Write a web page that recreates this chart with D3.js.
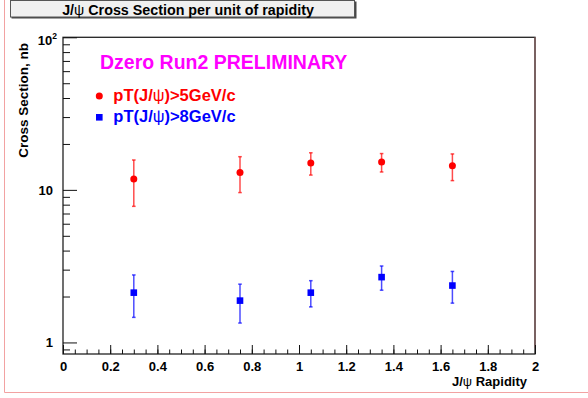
<!DOCTYPE html>
<html>
<head>
<meta charset="utf-8">
<script src="https://d3js.org/d3.v7.min.js"></script>
<style>
body{margin:0;background:#fff}
svg{display:block;font-family:"Liberation Sans",Arial,sans-serif}
</style>
</head>
<body>
<div id="char1"></div>
<script>
// J/psi rapidity points
var rapidity=[0.3,0.75,1.05,1.35,1.65];
// pT>5 GeV/c
var pt5=[11.8,13.0,15.0,15.25,14.4];
var pt5Lo=[7.8,9.6,12.5,13.1,11.5];
var pt5Hi=[15.7,16.5,17.5,17.3,17.2];
// pT>8 GeV/c
var pt8=[2.12,1.88,2.12,2.68,2.36];
var pt8Lo=[1.46,1.34,1.71,2.20,1.81];
var pt8Hi=[2.77,2.41,2.54,3.17,2.92];
var xTicks=[0,0.2,0.4,0.6,0.8,1,1.2,1.4,1.6,1.8,2];
var yTicks=[1,10,100];

var svgwidth=588,svgheight=398;
var frame={"left":63,"right":535,"top":37.3,"bottom":354};

var svf=d3.select("#char1")
          .append("svg")
          .attr("width",svgwidth)
          .attr("height",svgheight)

// pink canvas edge
svf.append("path")
   .attr("d","M4.5,0V392.5H588")
   .attr("fill","none")
   .attr("stroke","#f2a2a2")
   .attr("stroke-width",1)

var xscale=d3.scaleLinear()
             .domain([0,2])
             .range([frame.left,frame.right])
var yscale=d3.scaleLog()
             .domain([0.84,100])
             .range([frame.bottom,frame.top])

// frame
svf.append("rect")
   .attr("x",frame.left)
   .attr("y",frame.top)
   .attr("width",frame.right-frame.left)
   .attr("height",frame.bottom-frame.top)
   .attr("fill","none")
   .attr("stroke","#222")
   .attr("stroke-width",1.3)
svf.append("line")
   .attr("x1",frame.right).attr("x2",frame.right)
   .attr("y1",frame.top).attr("y2",frame.bottom-6)
   .attr("stroke","#7d5c5c")
   .attr("stroke-width",1.5)

// x axis, ticks point inward
var xAxis=d3.axisBottom()
            .scale(xscale)
            .tickValues(xTicks)
            .tickSizeInner(-9)
            .tickSizeOuter(0)
            .tickPadding(8)
            .tickFormat(function (d) {return d3.format("")(+d.toFixed(1))})
var xMinor=d3.axisBottom()
             .scale(xscale)
             .tickValues(d3.range(0,41).map(function (i) {return i*0.05}))
             .tickSize(-4.5)
             .tickFormat("")
svf.append("g")
   .attr("transform","translate(0,"+frame.bottom+")")
   .call(xMinor)
   .call(function (g) {g.select(".domain").remove()})
svf.append("g")
   .classed("xaxis",true)
   .attr("transform","translate(0,"+frame.bottom+")")
   .style("font","bold 13px 'Liberation Sans', Arial, sans-serif")
   .call(xAxis)
   .call(function (g) {g.select(".domain").remove()})

// y axis, log
var yMinorVals=[0.9,2,3,4,5,6,7,8,9,20,30,40,50,60,70,80,90];
var yMinor=d3.axisLeft()
             .scale(yscale)
             .tickValues(yMinorVals)
             .tickSize(-7)
             .tickFormat("")
var yAxis=d3.axisLeft()
            .scale(yscale)
            .tickValues(yTicks)
            .tickSizeInner(-14)
            .tickSizeOuter(0)
            .tickPadding(10)
            .tickFormat(function (d) {return d===100?"10":String(d)})
svf.append("g")
   .attr("transform","translate("+frame.left+",0)")
   .call(yMinor)
   .call(function (g) {g.select(".domain").remove()})
var yg=svf.append("g")
          .classed("yaxis",true)
          .attr("transform","translate("+frame.left+",0)")
          .style("font","bold 13px 'Liberation Sans', Arial, sans-serif")
          .call(yAxis)
          .call(function (g) {g.select(".domain").remove()})
yg.selectAll(".tick")
  .filter(function (d) {return d===100})
  .select("text")
  .attr("x",-6)
  .attr("dy","0.55em")
  .append("tspan")
  .attr("dy","-0.75em")
  .style("font-size","8.5px")
  .text("2")

svf.selectAll(".tick line").attr("stroke","#111")
svf.selectAll(".tick text").attr("fill","#000")

// axis titles
svf.append("text")
   .attr("transform","translate(28,43) rotate(-90)")
   .attr("text-anchor","end")
   .style("font","bold 13.5px 'Liberation Sans', Arial, sans-serif")
   .text("Cross Section, nb")
var xt=svf.append("text")
          .attr("x",527)
          .attr("y",385.5)
          .attr("text-anchor","end")
          .style("font","bold 13px 'Liberation Sans', Arial, sans-serif")
xt.append("tspan").text("J/")
xt.append("tspan").style("font-weight","normal").text("ψ")
xt.append("tspan").text(" Rapidity")

// title box
svf.append("rect")
   .attr("x",11.5).attr("y",1.5)
   .attr("width",345).attr("height",17)
   .attr("fill","#474747")
svf.append("rect")
   .attr("x",10.5).attr("y",0.5)
   .attr("width",344).attr("height",16.5)
   .attr("fill","#f0f0f0")
   .attr("stroke","#555")
   .attr("stroke-width",1)
var tt=svf.append("text")
          .attr("x",188)
          .attr("y",14.5)
          .attr("text-anchor","middle")
          .style("font","bold 14.3px 'Liberation Sans', Arial, sans-serif")
tt.append("tspan").text("J/")
tt.append("tspan").style("font-weight","normal").text("ψ")
tt.append("tspan").text(" Cross Section per unit of rapidity")

// preliminary label + legend
svf.append("text")
   .attr("x",100)
   .attr("y",68.5)
   .attr("fill","#ff00ff")
   .style("font","bold 19.5px 'Liberation Sans', Arial, sans-serif")
   .text("Dzero Run2 PRELIMINARY")

var legend=[{"lab":">5GeV/c","col":"#ff0000","y":101,"shape":"circle"},
            {"lab":">8GeV/c","col":"#0000ff","y":122,"shape":"square"}];
legend.forEach(function (l) {
    if (l.shape==="circle") {
        svf.append("circle").attr("cx",99.3).attr("cy",l.y-5).attr("r",3.5).attr("fill",l.col)
    } else {
        svf.append("rect").attr("x",96).attr("y",l.y-8).attr("width",6.6).attr("height",6.6).attr("fill",l.col)
    }
    var t=svf.append("text")
             .attr("x",113.3)
             .attr("y",l.y)
             .attr("fill",l.col)
             .style("font","bold 16.5px 'Liberation Sans', Arial, sans-serif")
    t.append("tspan").text("pT(J/")
    t.append("tspan").style("font-weight","normal").text("ψ")
    t.append("tspan").text(")"+l.lab)
})

// data points with error bars
function drawSeries(vals,lo,hi,col,shape) {
    var g=svf.append("g")
    var d=vals.map(function (v,i) {return {"x":rapidity[i],"v":v,"lo":lo[i],"hi":hi[i]}})
    g.selectAll("line.bar")
     .data(d)
     .enter()
     .append("line")
     .attr("x1",function (p) {return xscale(p.x)})
     .attr("x2",function (p) {return xscale(p.x)})
     .attr("y1",function (p) {return yscale(p.lo)})
     .attr("y2",function (p) {return yscale(p.hi)})
     .attr("stroke",col)
     .attr("stroke-opacity",0.7)
     .attr("stroke-width",1.5)
    ;["lo","hi"].forEach(function (k) {
        g.selectAll("line.cap"+k)
         .data(d)
         .enter()
         .append("line")
         .attr("x1",function (p) {return xscale(p.x)-1.8})
         .attr("x2",function (p) {return xscale(p.x)+1.8})
         .attr("y1",function (p) {return yscale(p[k])})
         .attr("y2",function (p) {return yscale(p[k])})
         .attr("stroke",col)
         .attr("stroke-opacity",0.7)
         .attr("stroke-width",1.5)
    })
    if (shape==="circle") {
        g.selectAll("circle")
         .data(d)
         .enter()
         .append("circle")
         .attr("cx",function (p) {return xscale(p.x)})
         .attr("cy",function (p) {return yscale(p.v)})
         .attr("r",3.5)
         .attr("fill",col)
    } else {
        g.selectAll("rect")
         .data(d)
         .enter()
         .append("rect")
         .attr("x",function (p) {return xscale(p.x)-3.3})
         .attr("y",function (p) {return yscale(p.v)-3.3})
         .attr("width",6.6)
         .attr("height",6.6)
         .attr("fill",col)
    }
}
drawSeries(pt5,pt5Lo,pt5Hi,"#ff0000","circle")
drawSeries(pt8,pt8Lo,pt8Hi,"#0000ff","square")
</script>
</body>
</html>
